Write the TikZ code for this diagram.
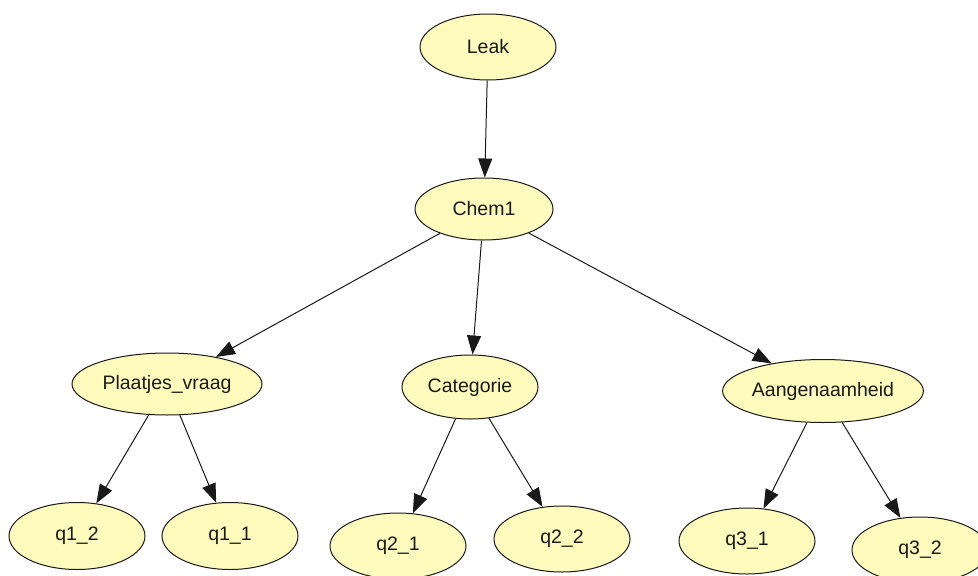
\documentclass[tikz,border=0pt]{standalone}
\usepackage{fontspec}
\setmainfont{Liberation Sans}
\usetikzlibrary{shapes.geometric,arrows.meta}
\definecolor{nodefill}{RGB}{255,251,189}
\definecolor{edgecol}{RGB}{25,25,25}
\tikzset{
  bnode/.style={ellipse, draw=edgecol, line width=1pt, fill=nodefill, inner sep=0pt,
    font=\fontsize{19.5}{22}\selectfont, text=black!90},
  link/.style={draw=edgecol, line width=1pt, -{Triangle[length=19pt,width=14pt]}}
}
\begin{document}
\begin{tikzpicture}[x=1pt,y=-1pt]
\useasboundingbox (0,0) rectangle (978,576);
\fill[white] (0,0) rectangle (978,576);
\node[bnode, minimum width=136pt, minimum height=66pt] (leak) at (488,47) {Leak};
\node[bnode, minimum width=138pt, minimum height=62pt] (chem) at (484,209) {Chem1};
\node[bnode, minimum width=190pt, minimum height=62pt] (plaat) at (167,384) {Plaatjes\_vraag};
\node[bnode, minimum width=136pt, minimum height=64pt] (cat) at (470,387) {Categorie};
\node[bnode, minimum width=180pt, minimum height=63pt] (aang) at (823,391) {Aangenaamheid};
\node[bnode, minimum width=136pt, minimum height=67pt] (q12) at (77,536) {q1\_2};
\node[bnode, minimum width=136pt, minimum height=67pt] (q11) at (230,536) {q1\_1};
\node[bnode, minimum width=136pt, minimum height=66pt] (q21) at (398,546) {q2\_1};
\node[bnode, minimum width=136pt, minimum height=66pt] (q22) at (562,539) {q2\_2};
\node[bnode, minimum width=136pt, minimum height=66pt] (q31) at (747,541) {q3\_1};
\node[bnode, minimum width=136pt, minimum height=66pt] (q32) at (920,550) {q3\_2};
\draw[link] (leak) -- (chem);
\draw[link] (chem) -- (plaat);
\draw[link] (chem) -- (cat);
\draw[link] (chem) -- (aang);
\draw[link] (plaat) -- (q12);
\draw[link] (plaat) -- (q11);
\draw[link] (cat) -- (q21);
\draw[link] (cat) -- (q22);
\draw[link] (aang) -- (q31);
\draw[link] (aang) -- (q32);
\end{tikzpicture}
\end{document}
